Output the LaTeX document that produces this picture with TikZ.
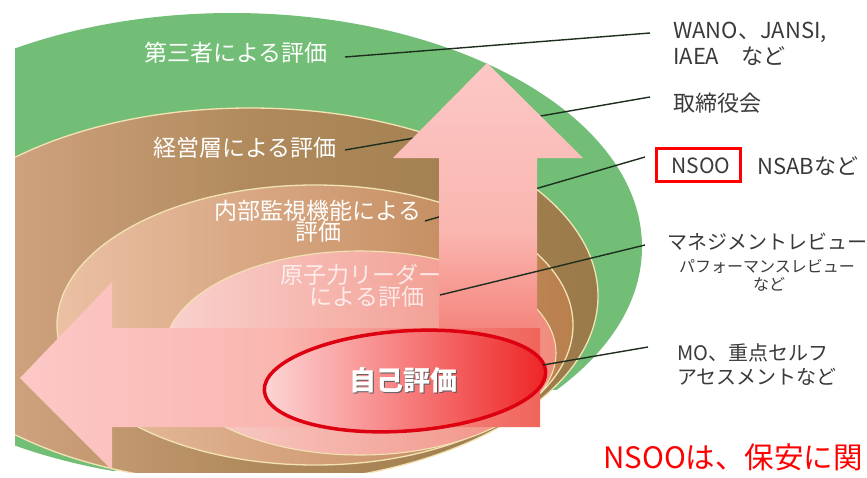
\documentclass[tikz,border=0pt]{standalone}
\usepackage{fontspec}
\setmainfont{Noto Sans CJK JP}
\definecolor{greenc}{HTML}{73BE77}
\definecolor{cream}{HTML}{F3E3B4}
\definecolor{brownL}{HTML}{DDAD8E}
\definecolor{brownM}{HTML}{B08A5C}
\definecolor{brownR}{HTML}{9B7A4A}
\definecolor{tanL}{HTML}{EBC0A4}
\definecolor{tanR}{HTML}{B97F4D}
\definecolor{pinkL}{HTML}{F9D2CE}
\definecolor{pinkR}{HTML}{F08C7E}
\definecolor{arrL}{HTML}{FCC8C6}
\definecolor{arrM}{HTML}{FAB6B0}
\definecolor{arrR}{HTML}{F0645A}
\definecolor{redL}{HTML}{FDD6D6}
\definecolor{redM}{HTML}{F77E7E}
\definecolor{redR}{HTML}{EE2424}
\definecolor{redline}{HTML}{DD0010}
\definecolor{connc}{HTML}{1E2E1E}
\definecolor{labelgray}{HTML}{3A3A3A}
\begin{document}
\begin{tikzpicture}[x=1pt,y=-1pt,
  inlabel/.style={text=white,font=\fontsize{23}{23}\selectfont,inner sep=0pt},
  outlabel/.style={text=labelgray,font=\fontsize{20}{24}\selectfont,inner sep=0pt},
  biglabel/.style={text=labelgray,font=\fontsize{22}{24}\selectfont,inner sep=0pt},
  smalllabel/.style={text=labelgray,font=\fontsize{16}{18}\selectfont,inner sep=0pt},
  conn/.style={draw=connc,line width=1.4pt}]
\useasboundingbox (0,0) rectangle (867,477);
% nested ellipses
\begin{scope}
\clip (15,0) rectangle (867,472);
\fill[greenc] (232,247) ellipse [x radius=410, y radius=234];
\fill[white] (547,390) -- (700,390) -- (700,485) -- (60,481) -- cycle;
\path[left color=brownL,right color=brownR,middle color=brownM,draw=cream,line width=1.3pt]
  (250,296) ellipse [x radius=348, y radius=188];
\path[left color=tanL,right color=tanR,draw=cream,line width=1.3pt]
  (315,325) ellipse [x radius=258, y radius=140];
\path[left color=pinkL,right color=pinkR,draw=cream,line width=1.1pt]
  (360,353) ellipse [x radius=196, y radius=102];
\end{scope}
% inner labels
\node[inlabel] (t1) at (236,53) {第三者による評価};
\node[inlabel] (t2) at (245,148) {経営層による評価};
\node[inlabel] (t3a) at (318,211) {内部監視機能による};
\node[inlabel] (t3b) at (318,232) {評価};
\node[inlabel,text opacity=0.75] (t4a) at (361,275) {原子力リーダー};
\node[inlabel,text opacity=0.75] (t4b) at (367,297) {による評価};
% outer labels
\node[biglabel,anchor=west] (l1a) at (673,32) {WANO、JANSI,};
\node[biglabel,anchor=west] (l1b) at (673,56) {IAEA　など};
\node[biglabel,anchor=west] (l2) at (673,103) {取締役会};
\node[outlabel,font=\fontsize{21}{24}\selectfont] (l3a) at (701,166) {NSOO};
\node[draw=red,line width=3.5pt,minimum width=84pt,minimum height=33pt] (l3box) at (698.5,165) {};
\node[biglabel,anchor=west] (l3b) at (757,166) {NSABなど};
\node[outlabel] (l4a) at (767,242) {マネジメントレビュー};
\node[smalllabel] (l4b) at (767,266) {パフォーマンスレビュー};
\node[smalllabel] (l4c) at (769,284) {など};
\node[outlabel,anchor=west] (l5a) at (677,353) {MO、重点セルフ};
\node[outlabel,anchor=west] (l5b) at (677,377) {アセスメントなど};
\node[text=red,font=\fontsize{29.5}{30}\selectfont,inner sep=0pt,anchor=west] (note) at (603,457) {NSOOは、保安に関};
% connector endpoints
\coordinate (a1) at (345,57);  \coordinate (b1) at (650,33);
\coordinate (a2) at (345,150); \coordinate (b2) at (650,97);
\coordinate (a3) at (425,221); \coordinate (b3) at (645,157);
\coordinate (a4) at (440,295); \coordinate (b4) at (645,245);
\coordinate (a5) at (543,365); \coordinate (b5) at (648,347);
% connectors under the arrow
\draw[conn] (a2) -- (b2);
\draw[conn] (a3) -- (b3);
% up arrow
\path[top color=arrL,bottom color=arrR,middle color=arrM] (487,63) -- (583,158) -- (537,158) -- (537,398) -- (439,398) -- (439,158) -- (393,158) -- cycle;
% left arrow
\path[left color=arrL,right color=arrR,middle color=arrM] (20,378) -- (112,282) -- (112,328) -- (540,328) -- (540,427) -- (112,427) -- (112,470) -- cycle;
% self evaluation ellipse
\path[left color=redL,right color=redR,middle color=redM,draw=redline,line width=3.5pt,rotate around={4:(405,381)}]
  (405,381) ellipse [x radius=141, y radius=50];
\node[text=black!65,font=\bfseries\fontsize{27}{27}\selectfont,inner sep=0pt] (t5s) at (404.3,381.3) {自己評価};
\node[text=white,font=\bfseries\fontsize{27}{27}\selectfont,inner sep=0pt] (t5) at (403,380) {自己評価};
% connectors over the arrow
\draw[conn] (a1) -- (b1);
\draw[conn] (a4) -- (b4);
\draw[conn] (a5) -- (b5);
\end{tikzpicture}
\end{document}
